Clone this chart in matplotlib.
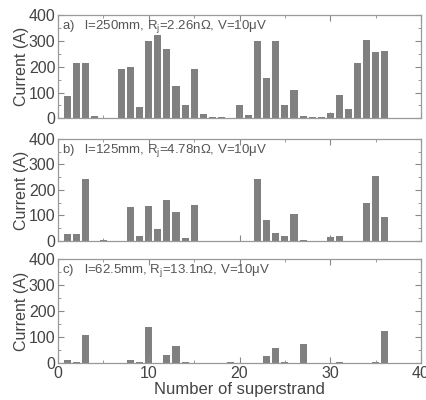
import matplotlib
matplotlib.use("Agg")
import matplotlib.pyplot as plt
from matplotlib.ticker import MultipleLocator

plt.rcParams['font.family'] = ['Liberation Sans', 'DejaVu Sans']
plt.rcParams['mathtext.fontset'] = 'custom'
plt.rcParams['mathtext.rm'] = 'Liberation Sans'
plt.rcParams['mathtext.it'] = 'Liberation Sans:italic'

strands = list(range(1, 37))
current_a = [88, 213, 215, 10, 3, 0, 190, 200, 45, 300, 322, 270, 125, 52, 193, 18, 7, 7,
             3, 52, 12, 300, 155, 300, 52, 110, 8, 7, 5, 22, 90, 35, 215, 305, 258, 262]
current_b = [28, 28, 245, 0, 3, 0, 0, 133, 18, 138, 48, 160, 115, 13, 143, 0, 0, 0,
             0, 0, 0, 243, 82, 32, 20, 105, 3, 0, 0, 15, 20, 0, 0, 148, 255, 95]
current_c = [10, 5, 107, 0, 0, 0, 0, 10, 5, 138, 0, 30, 63, 3, 0, 0, 0, 0,
             3, 0, 0, 0, 28, 58, 3, 0, 72, 0, 0, 0, 3, 0, 0, 0, 3, 122]
labels = ["a)   l=250mm, R$_\\mathrm{j}$=2.26nΩ, V=10μV",
          "b)   l=125mm, R$_\\mathrm{j}$=4.78nΩ, V=10μV",
          "c)   l=62.5mm, R$_\\mathrm{j}$=13.1nΩ, V=10μV"]
series = [current_a, current_b, current_c]

fig = plt.figure(figsize=(4.27, 4.0), dpi=100)
boxes = [(0.136, 0.704, 0.850, 0.2585),
         (0.136, 0.3975, 0.850, 0.255),
         (0.136, 0.093, 0.850, 0.259)]
txt = '#444444'
for i, (box, vals, lab) in enumerate(zip(boxes, series, labels)):
    ax = fig.add_axes(box)
    ax.bar(strands, vals, width=0.78, color='#808080', edgecolor='none')
    ax.set_xlim(0, 40)
    ax.set_ylim(0, 400)
    ax.xaxis.set_major_locator(MultipleLocator(10))
    ax.xaxis.set_minor_locator(MultipleLocator(5))
    ax.yaxis.set_major_locator(MultipleLocator(100))
    ax.yaxis.set_minor_locator(MultipleLocator(50))
    ax.tick_params(which='both', direction='in', top=True, right=True,
                   color='#888888', labelcolor=txt, labelsize=11.5, pad=2)
    ax.tick_params(which='major', length=4)
    ax.tick_params(which='minor', length=2)
    for s in ax.spines.values():
        s.set_color('#999999')
        s.set_linewidth(0.9)
    ax.set_ylabel('Current (A)', fontsize=11.5, color=txt)
    ax.yaxis.set_label_coords(-0.08, 0.5)
    if i < 2:
        ax.tick_params(labelbottom=False)
    else:
        ax.set_xlabel('Number of superstrand', fontsize=12, color=txt, labelpad=1)
    ax.text(0.012, 0.89, lab, transform=ax.transAxes, fontsize=9.5, color='#555555',
            va='center', ha='left')

fig.savefig('out.png', dpi=100)
